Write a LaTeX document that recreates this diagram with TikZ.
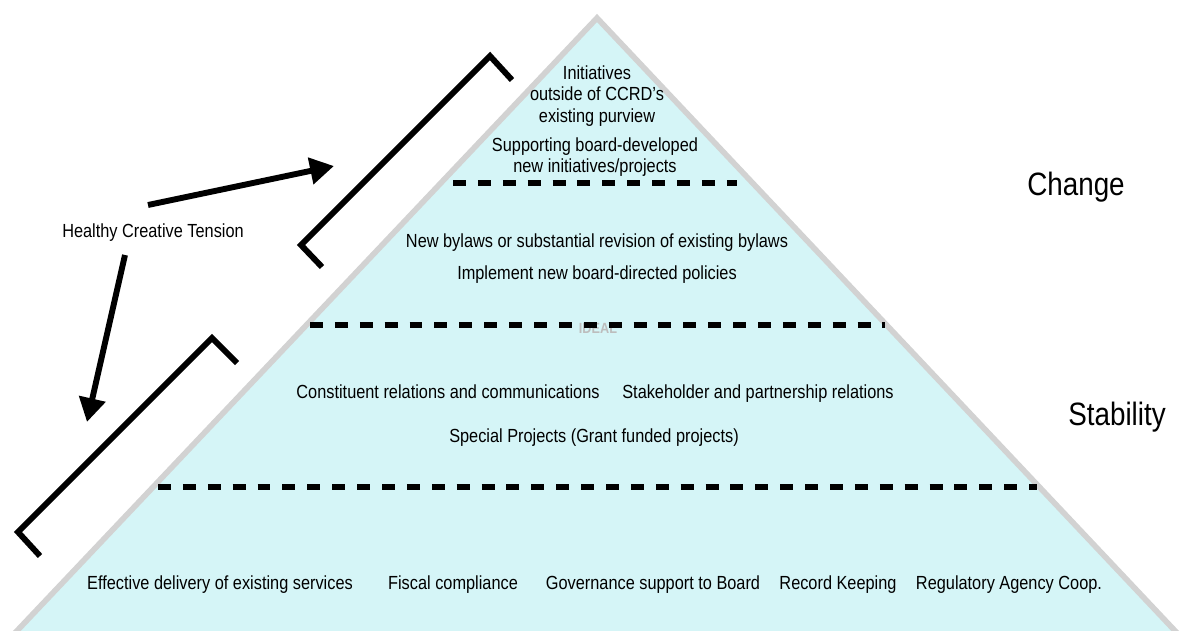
\documentclass[tikz,border=0pt]{standalone}
\usepackage{fontspec}
\setmainfont[FakeStretch=0.86]{Liberation Sans}
\usetikzlibrary{arrows.meta}
\definecolor{pyrfill}{HTML}{D5F5F7}
\definecolor{pyredge}{HTML}{D2D2D2}
\definecolor{ghost}{HTML}{BDBDBD}

\begin{document}
\begin{tikzpicture}[x=0.025cm, y=-0.025cm,
    lbl/.style={font=\fontsize{13.5}{15}\selectfont, inner sep=0pt, align=center},
    row/.style={lbl, text height=9.8pt, text depth=2.9pt},
    side/.style={font=\fontsize{23}{26}\selectfont, inner sep=0pt},
    tier/.style={line width=3.9pt, dash pattern=on 9.2pt off 8.5pt},
    bracket/.style={line width=4.2pt, line join=miter},
    push/.style={line width=4.2pt, -{Triangle[length=17pt, width=18.5pt]}}]
  \useasboundingbox (0,0) rectangle (1180,631);

  % Pyramid
  \draw[draw=pyredge, fill=pyrfill, line width=4pt, line join=miter]
    (597,18) -- (1178,634) -- (14,634) -- cycle;

  \node[font=\bfseries\fontsize{10.5}{12}\selectfont, text=ghost, inner sep=0pt]
    (ideal) at (598,328) {IDEAL};

  % Tier lines
  \draw[tier] (453,183) -- (737,183);
  \draw[tier] (310,325) -- (885,325);
  \draw[tier] (158,487) -- (1037,487);

  % Tier texts
  \node[lbl] (init) at (597,96) {Initiatives\\outside of CCRD’s\\existing purview};
  \node[lbl] (support) at (595,157) {Supporting board-developed\\new initiatives/projects};
  \node[row] (bylaws) at (597,243) {New bylaws or substantial revision of existing bylaws};
  \node[row] (policies) at (597,275) {Implement new board-directed policies};
  \node[row] (constituent) at (448,394) {Constituent relations and communications};
  \node[row] (stakeholder) at (758,394) {Stakeholder and partnership relations};
  \node[row] (special) at (594,438) {Special Projects (Grant funded projects)};
  \node[row] (delivery) at (220,585) {Effective delivery of existing services};
  \node[row] (fiscal) at (453,585) {Fiscal compliance};
  \node[row] (governance) at (653,585) {Governance support to Board};
  \node[row] (records) at (838,585) {Record Keeping};
  \node[row] (regulatory) at (1009,585) {Regulatory Agency Coop.};

  % Sides
  \node[side] (change) at (1076,187) {Change};
  \node[side] (stability) at (1117,417) {Stability};
  \node[row] (tension) at (153,233) {Healthy Creative Tension};

  % Brackets
  \draw[bracket] (512,80) -- (490,56) -- (301,245) -- (322,267);
  \draw[bracket] (237,363) -- (212,338) -- (18,532) -- (40,556);

  % Arrows
  \coordinate (uptail) at (148,205);
  \coordinate (uptip) at (334,166);
  \coordinate (downtail) at (125,255);
  \coordinate (downtip) at (87,422);
  \draw[push] (uptail) -- (uptip);
  \draw[push] (downtail) -- (downtip);
\end{tikzpicture}
\end{document}
